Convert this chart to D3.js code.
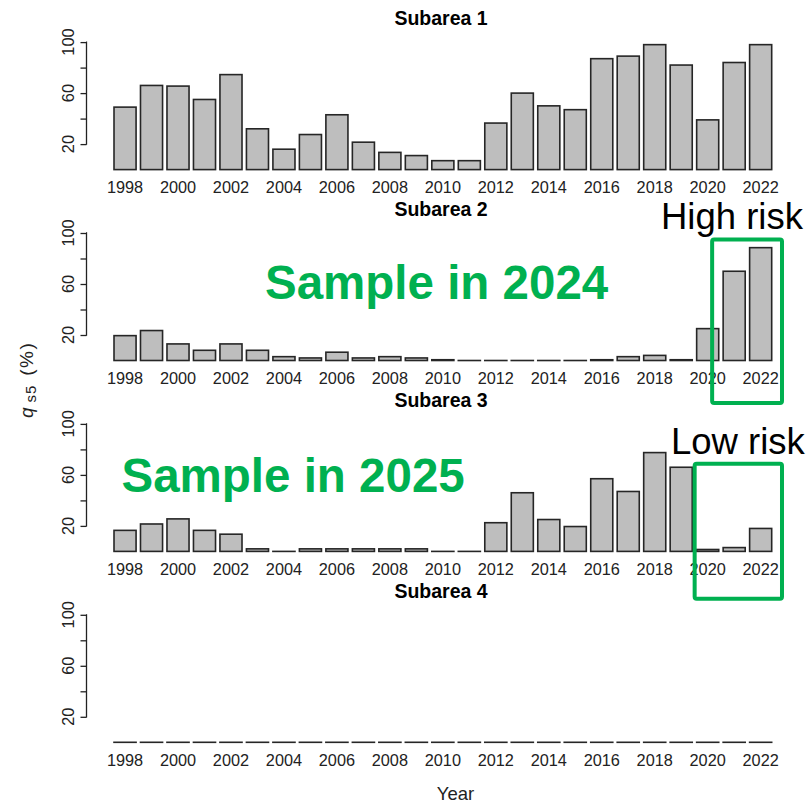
<!DOCTYPE html>
<html>
<head>
<meta charset="utf-8">
<script src="https://cdn.jsdelivr.net/npm/d3@7"></script>
<style>
  html, body { margin: 0; padding: 0; background: #fff; }
  svg { display: block; font-family: "Liberation Sans", Arial, Helvetica, sans-serif; }
</style>
</head>
<body>
<svg id="chart" width="811" height="803"></svg>
<script>
// Years on the x axis (one bar per year)
const years = [1998, 1999, 2000, 2001, 2002, 2003, 2004, 2005, 2006, 2007, 2008, 2009, 2010,
               2011, 2012, 2013, 2014, 2015, 2016, 2017, 2018, 2019, 2020, 2021, 2022];
// Years that carry a tick label
const yearLabels = [1998, 2000, 2002, 2004, 2006, 2008, 2010, 2012, 2014, 2016, 2018, 2020, 2022];

// q_s5 (%) by subarea
const subarea1 = [49, 66, 65.5, 55, 74.5, 32, 16, 27.5, 43, 21.5, 13.5, 11, 7, 7,
                  36.5, 60, 50, 47, 87, 89, 98, 82, 39, 84, 98];
const subarea2 = [19.5, 23.5, 13, 8, 13, 8, 3, 2, 6.5, 2, 3, 2, 0.6, 0,
                  0, 0, 0, 0, 0.6, 3, 4, 0.6, 25, 70, 88.5];
const subarea3 = [16.5, 21.5, 25.5, 16.5, 13.5, 2, 0, 2, 2, 2, 2, 2, 0, 0,
                  22.5, 46, 25, 19.5, 57, 47, 77.5, 66, 1.5, 3, 18];
const subarea4 = [0, 0, 0, 0, 0, 0, 0, 0, 0, 0, 0, 0, 0, 0,
                  0, 0, 0, 0, 0, 0, 0, 0, 0, 0, 0];

const panelTitles = ["Subarea 1", "Subarea 2", "Subarea 3", "Subarea 4"];
const panelValues = [subarea1, subarea2, subarea3, subarea4];

const yTicks = [20, 40, 60, 80, 100];
const yTickLabels = [20, 60, 100];

const svg = d3.select("#chart");
const green = "#00B050";

// Shared x scale across panels
const x = d3.scaleBand()
  .domain(years)
  .range([111.8, 773.9])
  .paddingInner(1 / 6)
  .paddingOuter(1 / 12);

const firstBottom = 169.6;
const panelStep = 190.9;
const plotH = 127.5;

panelValues.forEach((vals, i) => {
  const bottom = firstBottom + i * panelStep;
  const y = d3.scaleLinear().domain([0, 100]).range([bottom, bottom - plotH]);
  const g = svg.append("g");

  // Title
  g.append("text")
    .attr("x", 441)
    .attr("y", y(100) - 17)
    .attr("text-anchor", "middle")
    .attr("font-weight", "bold")
    .attr("font-size", 19.5)
    .attr("fill", "#000")
    .text(panelTitles[i]);

  // Bars (zero-height bars still show their outline)
  g.selectAll("rect.bar")
    .data(years.map((yr, j) => ({ yr, v: vals[j] })))
    .join("rect")
    .attr("class", "bar")
    .attr("x", d => x(d.yr))
    .attr("width", x.bandwidth())
    .attr("y", d => y(d.v))
    .attr("height", d => Math.max(0.01, y(0) - y(d.v)))
    .attr("fill", "#BEBEBE")
    .attr("stroke", "#262626")
    .attr("stroke-width", 1.6);

  // Y axis
  const axisX = 86.5;
  const yAxis = d3.axisLeft(y).tickValues(yTicks).tickSize(6).tickFormat("");
  const ga = g.append("g").attr("transform", `translate(${axisX},0)`).call(yAxis);
  ga.select(".domain").attr("d", `M-0.5,${y(20)}H0V${y(100)}H-0.5`)
    .attr("stroke", "#222").attr("stroke-width", 1.3);
  ga.selectAll(".tick line").attr("stroke", "#222").attr("stroke-width", 1.3);

  g.selectAll("text.ylab")
    .data(yTickLabels)
    .join("text")
    .attr("class", "ylab")
    .attr("transform", d => `translate(73.5,${y(d)}) rotate(-90)`)
    .attr("text-anchor", "middle")
    .attr("font-size", 16.3)
    .attr("fill", "#222")
    .text(d => d);

  // X labels
  g.selectAll("text.xlab")
    .data(yearLabels)
    .join("text")
    .attr("class", "xlab")
    .attr("x", d => x(d) + x.bandwidth() / 2)
    .attr("y", bottom + 23.8)
    .attr("text-anchor", "middle")
    .attr("font-size", 16.3)
    .attr("fill", "#222")
    .text(d => d);
});

// Axis titles
svg.append("text")
  .attr("x", 455.5)
  .attr("y", 799.5)
  .attr("text-anchor", "middle")
  .attr("font-size", 18.5)
  .attr("fill", "#222")
  .text("Year");

const yt = svg.append("text")
  .attr("transform", "translate(33,418) rotate(-90)")
  .attr("text-anchor", "start")
  .attr("font-size", 19)
  .attr("fill", "#222");
yt.append("tspan").attr("font-style", "italic").text("q");
yt.append("tspan").attr("font-size", 15).attr("dy", 3).attr("dx", 5).attr("letter-spacing", 1).text("s5");
yt.append("tspan").attr("dy", -3).attr("dx", 2).attr("letter-spacing", 1.5).text(" (%)");

// Annotations
const yP2 = d3.scaleLinear().domain([0, 100]).range([firstBottom + panelStep, firstBottom + panelStep - plotH]);

svg.append("text")
  .attr("x", 265).attr("y", 298.5)
  .attr("font-size", 47.5).attr("font-weight", "bold").attr("fill", green)
  .text("Sample in 2024");

svg.append("text")
  .attr("x", 121.5).attr("y", 491.5)
  .attr("font-size", 47.5).attr("font-weight", "bold").attr("fill", green)
  .text("Sample in 2025");

svg.append("text")
  .attr("x", 661).attr("y", 228.5)
  .attr("font-size", 36.5).attr("fill", "#000")
  .text("High risk");

svg.append("text")
  .attr("x", 671).attr("y", 453.5)
  .attr("font-size", 36.5).attr("fill", "#000")
  .text("Low risk");

// Highlight boxes around the recent years
svg.append("rect")
  .attr("x", x(2021) - 11).attr("y", yP2(100) + 6.5)
  .attr("width", (x(2022) + x.bandwidth() + 10.3) - (x(2021) - 11))
  .attr("height", 163.5)
  .attr("rx", 2)
  .attr("fill", "none").attr("stroke", green).attr("stroke-width", 4);

svg.append("rect")
  .attr("x", x(2020) - 2).attr("y", 463.7)
  .attr("width", (x(2022) + x.bandwidth() + 10.3) - (x(2020) - 2))
  .attr("height", 135)
  .attr("rx", 2)
  .attr("fill", "none").attr("stroke", green).attr("stroke-width", 4);
</script>
</body>
</html>
